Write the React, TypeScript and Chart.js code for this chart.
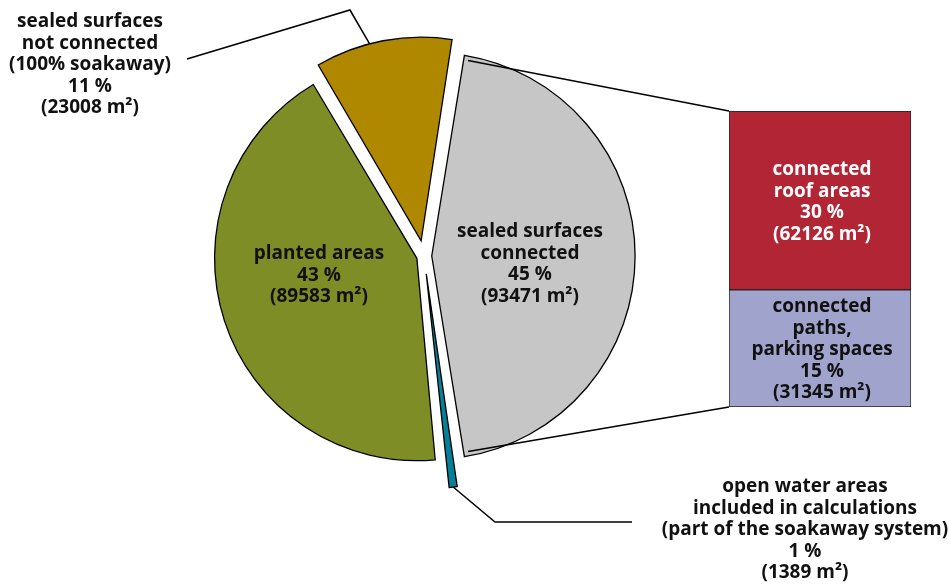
import React, { useEffect, useRef } from "react";
import { Chart, registerables } from "chart.js";
Chart.register(...registerables);

// ---- data ----
const pieCategories = [
  "sealed surfaces connected",
  "open water areas included in calculations",
  "planted areas",
  "sealed surfaces not connected",
];
const pieShares = [45, 1, 43, 11];
const pieAreas = [93471, 1389, 89583, 23008];

const barCategories = ["connected paths, parking spaces", "connected roof areas"];
const barShares = [15, 30];
const barAreas = [31345, 62126];
// segment heights as drawn in the picture (% of total)
const barHeights = [17.8, 27.2];

// ---- text ----
const pieLabelHead = [
  ["sealed surfaces", "connected"],
  ["open water areas", "included in calculations", "(part of the soakaway system)"],
  ["planted areas"],
  ["sealed surfaces", "not connected", "(100% soakaway)"],
];
const barLabelHead = [["connected", "paths,", "parking spaces"], ["connected", "roof areas"]];

// ---- styles / layout ----
const pieColors = ["#c6c6c6", "#067f98", "#7f8d26", "#b08800"];
const pieOffsets = [31, 72, 30, 62];
const barColors = ["#a0a3cc", "#b22535"];
const barTextColors = ["#111", "#ffffff"];
const pieLabelPos = [
  [530, 232],
  [805, 487],
  [319, 254],
  [90, 22],
];
const barLabelPos = [
  [822, 307],
  [822, 170],
];
const LH = 21.5;
const FONT = "bold 19px 'Open Sans', Lato, sans-serif";

function linesFor(head: string[], share: number, area: number) {
  return [...head, `${share} %`, `(${area} m²)`];
}

function drawLines(ctx: CanvasRenderingContext2D, lines: string[], x: number, y: number, color: string) {
  ctx.save();
  ctx.font = FONT;
  ctx.fillStyle = color;
  ctx.textAlign = "center";
  ctx.textBaseline = "middle";
  lines.forEach((l, i) => ctx.fillText(l, x, y + i * LH));
  ctx.restore();
}

function sliceGeom(el: any) {
  const p = el.getProps(["x", "y", "startAngle", "endAngle", "circumference", "outerRadius"], true);
  const off = (el.options.offset || 0) / 4;
  const half = (p.startAngle + p.endAngle) / 2;
  const fix = 1 - Math.sin(Math.min(Math.PI, p.circumference || 0));
  const d = off + off * fix;
  return {
    x: p.x + Math.cos(half) * d,
    y: p.y + Math.sin(half) * d,
    r: p.outerRadius,
    s: p.startAngle,
    e: p.endAngle,
    half,
  };
}
function pt(g: any, a: number) {
  return { x: g.x + Math.cos(a) * g.r, y: g.y + Math.sin(a) * g.r };
}

export default function App() {
  const pieRef = useRef<HTMLCanvasElement>(null);
  const barRef = useRef<HTMLCanvasElement>(null);

  useEffect(() => {
    document.body.style.margin = "0";
    const pieLabelsPlugin = {
      id: "pieLabels",
      afterDraw(chart: any) {
        const ctx = chart.ctx as CanvasRenderingContext2D;
        const arcs = chart.getDatasetMeta(0).data;
        const gGold = sliceGeom(arcs[3]);
        const endGold = pt(gGold, gGold.s + 0.4 * (gGold.e - gGold.s));
        const gTeal = sliceGeom(arcs[1]);
        const endTeal = pt(gTeal, gTeal.half);
        ctx.save();
        ctx.strokeStyle = "#000";
        ctx.lineWidth = 1.5;
        ctx.beginPath();
        ctx.moveTo(187, 59);
        ctx.lineTo(350, 10);
        ctx.lineTo(endGold.x, endGold.y);
        ctx.stroke();
        ctx.beginPath();
        ctx.moveTo(endTeal.x, endTeal.y);
        ctx.lineTo(495, 522);
        ctx.lineTo(632, 522);
        ctx.stroke();
        ctx.restore();
        pieLabelHead.forEach((head, i) => {
          drawLines(ctx, linesFor(head, pieShares[i], pieAreas[i]), pieLabelPos[i][0], pieLabelPos[i][1], "#111");
        });
      },
    };
    const pie = new Chart(pieRef.current!, {
      type: "pie",
      data: {
        labels: pieCategories,
        datasets: [
          {
            data: pieShares,
            backgroundColor: pieColors,
            borderColor: "#000",
            borderWidth: 1.3,
            offset: pieOffsets,
            borderJoinStyle: "miter",
          } as any,
        ],
      },
      options: {
        responsive: false,
        animation: false,
        events: [],
        rotation: 9,
        radius: 198,
        layout: { padding: { left: 224, right: 326, top: 56, bottom: 130 } },
        plugins: { legend: { display: false }, tooltip: { enabled: false } },
      } as any,
      plugins: [pieLabelsPlugin],
    });

    const connectorPlugin = {
      id: "connectors",
      afterDraw(chart: any) {
        const ctx = chart.ctx as CanvasRenderingContext2D;
        const gray = sliceGeom(pie.getDatasetMeta(0).data[0]);
        const top = pt(gray, gray.s);
        const bot = pt(gray, gray.e);
        const lower = chart.getDatasetMeta(0).data[0].getProps(["x", "y", "base", "width"], true);
        const upper = chart.getDatasetMeta(1).data[0].getProps(["x", "y", "base", "width"], true);
        ctx.save();
        ctx.strokeStyle = "#000";
        ctx.lineWidth = 1.5;
        ctx.beginPath();
        ctx.moveTo(top.x, top.y);
        ctx.lineTo(upper.x - upper.width / 2, upper.y);
        ctx.moveTo(bot.x, bot.y);
        ctx.lineTo(lower.x - lower.width / 2, lower.base);
        ctx.stroke();
        ctx.restore();
        barLabelHead.forEach((head, i) => {
          drawLines(ctx, linesFor(head, barShares[i], barAreas[i]), barLabelPos[i][0], barLabelPos[i][1], barTextColors[i]);
        });
      },
    };
    const bar = new Chart(barRef.current!, {
      type: "bar",
      data: {
        labels: ["connected"],
        datasets: barCategories.map((c, i) => ({
          label: c,
          data: [barHeights[i]],
          backgroundColor: barColors[i],
          borderColor: "#222",
          borderWidth: 1,
          borderSkipped: false,
          barPercentage: 1,
          categoryPercentage: 1,
        })),
      },
      options: {
        responsive: false,
        animation: false,
        events: [],
        layout: { padding: { left: 729, right: 39, top: 111, bottom: 179 } },
        scales: {
          x: { stacked: true, display: false },
          y: { stacked: true, display: false, min: 0, max: 45 },
        },
        plugins: { legend: { display: false }, tooltip: { enabled: false } },
      } as any,
      plugins: [connectorPlugin],
    });
    return () => {
      bar.destroy();
      pie.destroy();
    };
  }, []);

  return (
    <div style={{ position: "fixed", left: 0, top: 0, width: 950, height: 586, background: "#fff" }}>
      <canvas ref={pieRef} width={950} height={586} style={{ position: "absolute", left: 0, top: 0 }} />
      <canvas ref={barRef} width={950} height={586} style={{ position: "absolute", left: 0, top: 0 }} />
    </div>
  );
}
